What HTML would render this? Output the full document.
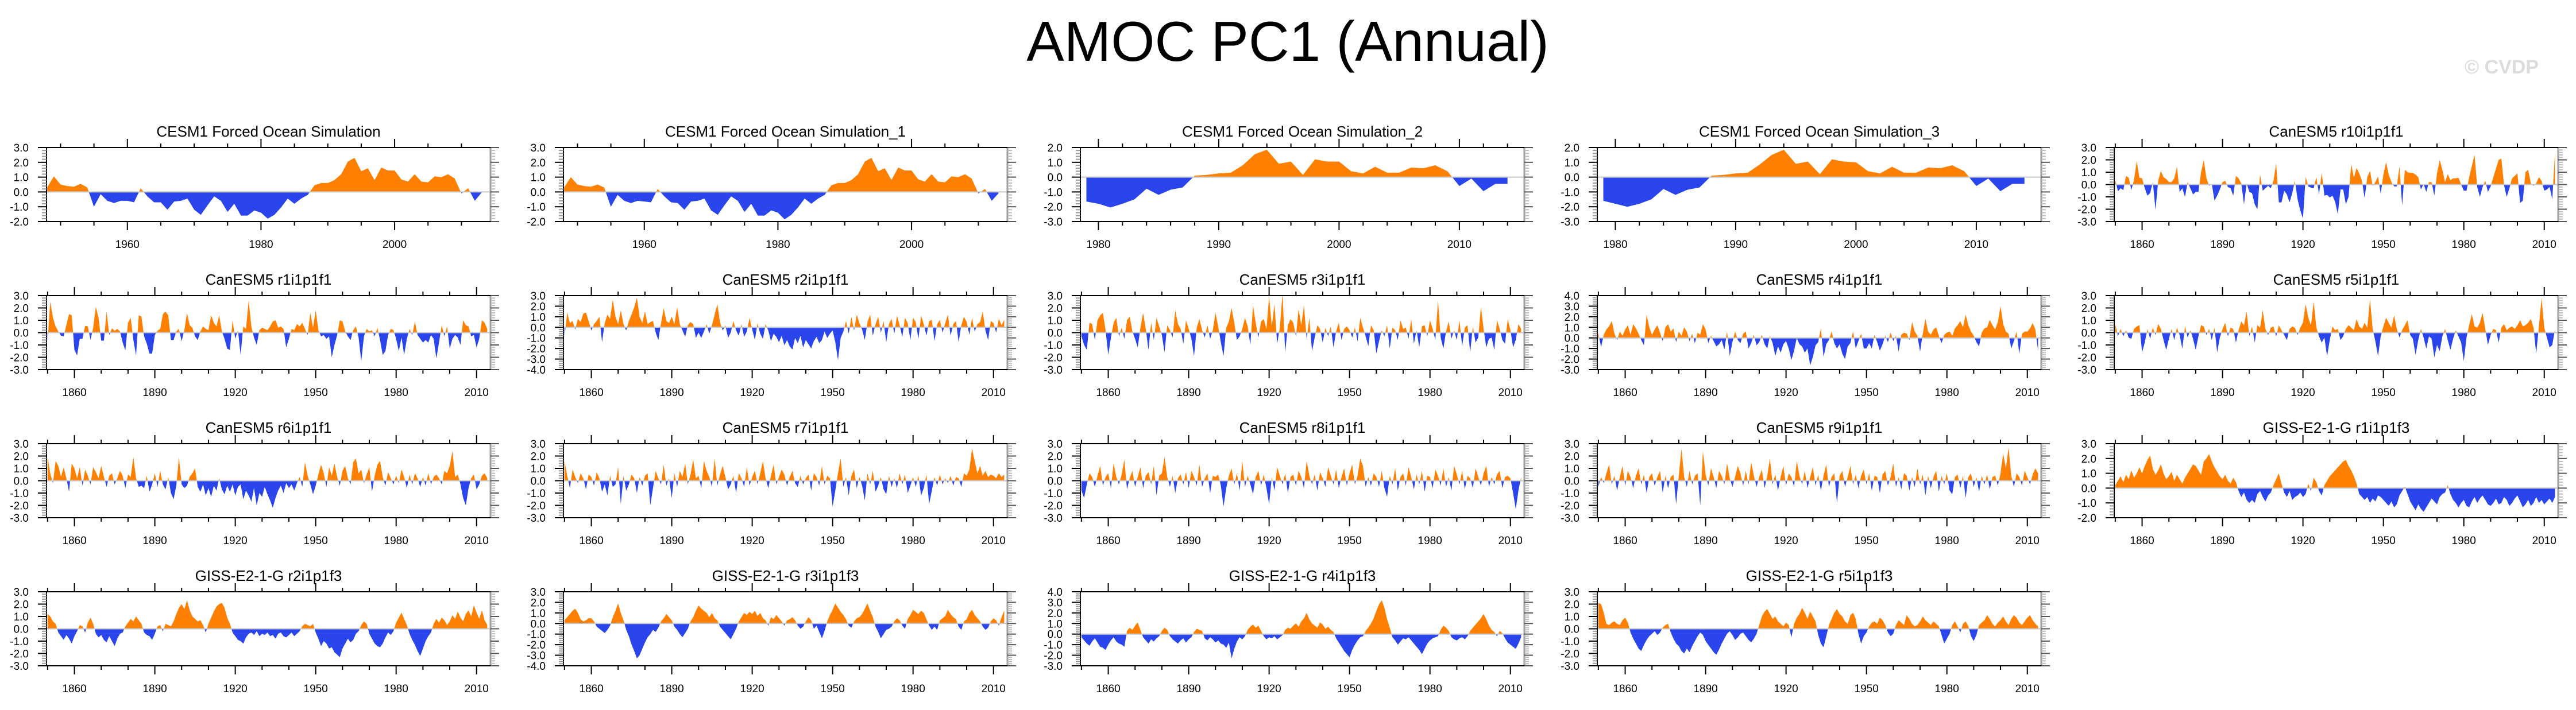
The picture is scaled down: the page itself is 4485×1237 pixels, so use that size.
<!DOCTYPE html>
<html><head><meta charset="utf-8"><title>AMOC PC1 (Annual)</title>
<style>
html,body{margin:0;padding:0;background:#fff;}
svg{display:block;font-family:"Liberation Sans",Arial,sans-serif;}
</style></head>
<body>
<svg id="fig" width="4485" height="1237" viewBox="0 0 4485 1237" xmlns="http://www.w3.org/2000/svg">
<text x="2242" y="106" font-size="98" text-anchor="middle" fill="#000">AMOC PC1 (Annual)</text>
<text x="4420" y="128" font-size="34" font-weight="bold" text-anchor="end" fill="#dcdcdc">© CVDP</text>
<g id="panels"></g>
</svg>
<script>
// ---------- data ----------
const titles = ["CESM1 Forced Ocean Simulation","CESM1 Forced Ocean Simulation_1","CESM1 Forced Ocean Simulation_2","CESM1 Forced Ocean Simulation_3","CanESM5 r10i1p1f1",
"CanESM5 r1i1p1f1","CanESM5 r2i1p1f1","CanESM5 r3i1p1f1","CanESM5 r4i1p1f1","CanESM5 r5i1p1f1",
"CanESM5 r6i1p1f1","CanESM5 r7i1p1f1","CanESM5 r8i1p1f1","CanESM5 r9i1p1f1","GISS-E2-1-G r1i1p1f3",
"GISS-E2-1-G r2i1p1f3","GISS-E2-1-G r3i1p1f3","GISS-E2-1-G r4i1p1f3","GISS-E2-1-G r5i1p1f3"];
const startYears = [1948,1948,1979,1979,1850,1850,1850,1850,1850,1850,1850,1850,1850,1850,1850,1850,1850,1850,1850];
const yMins = [-2,-2,-3,-3,-3,-3,-4,-3,-3,-3,-3,-3,-3,-3,-2,-3,-4,-3,-3];
const yMaxs = [3,3,2,2,3,3,3,3,4,3,3,3,3,3,3,3,3,4,3];
const axisKinds = ["ocean","ocean","short","short","long","long","long","long","long","long","long","long","long","long","long","long","long","long","long"];

const cesm0 = [0.3,1.05,0.5,0.4,0.35,0.55,0.3,-1.0,-0.15,-0.6,-0.75,-0.6,-0.6,-0.7,0.25,-0.3,-0.7,-0.7,-1.2,-0.65,-0.6,-0.45,-1.2,-1.55,-0.9,-0.3,-0.6,-1.35,-0.8,-1.6,-1.6,-1.25,-1.4,-1.8,-1.55,-1.05,-0.45,-0.8,-0.45,-0.2,0.45,0.6,0.6,0.8,1.2,2.05,2.3,1.4,1.6,0.8,1.65,1.45,1.45,0.85,0.7,1.2,0.7,0.65,1.05,1.0,1.2,0.9,-0.1,0.25,-0.6,-0.05];
const cesm1 = [0.3,1.0,0.5,0.4,0.35,0.5,0.3,-1.0,-0.2,-0.6,-0.75,-0.6,-0.65,-0.7,0.2,-0.3,-0.7,-0.75,-1.2,-0.65,-0.6,-0.45,-1.25,-1.55,-0.9,-0.3,-0.6,-1.35,-0.8,-1.6,-1.6,-1.25,-1.4,-1.85,-1.55,-1.05,-0.45,-0.8,-0.45,-0.2,0.45,0.6,0.6,0.8,1.2,2.05,2.3,1.4,1.6,0.8,1.65,1.45,1.45,0.85,0.7,1.2,0.7,0.65,1.05,1.0,1.2,0.9,-0.1,0.2,-0.6,-0.1];
const cesm2 = [-1.65,-1.8,-2.05,-1.8,-1.5,-0.78,-1.2,-0.85,-0.7,0.1,0.15,0.25,0.3,0.8,1.55,1.85,0.9,1.05,0.15,1.2,1.05,1.05,0.4,0.25,0.7,0.3,0.3,0.65,0.6,0.8,0.4,-0.6,-0.1,-0.95,-0.45,-0.45];
const cesm3 = [-1.6,-1.8,-2.0,-1.8,-1.5,-0.8,-1.2,-0.85,-0.7,0.1,0.15,0.25,0.3,0.85,1.5,1.85,0.9,1.05,0.2,1.2,1.05,1.0,0.4,0.25,0.7,0.3,0.3,0.65,0.6,0.8,0.4,-0.6,-0.1,-0.95,-0.45,-0.45];
const can10 = [0.4,-0.55,-0.3,-0.45,0.7,0.55,-0.45,0.4,1.9,0.55,
0.5,-0.3,-0.9,-0.7,0.2,-2.05,0.3,1.1,0.6,0.45,
0.2,0.2,0.5,1.45,-0.6,-0.3,-1.0,0.2,-0.3,-0.8,
-0.6,-0.6,1.0,2.0,0.5,-0.1,0.05,-1.3,-0.9,-0.4,
0.2,0.3,-0.2,-0.3,-0.9,0.7,0.5,0.1,-1.6,0.1,
-0.6,-0.7,-1.6,-2.0,0.8,-0.5,-0.3,-0.1,-0.3,0.3,
1.7,-1.45,-1.45,-0.5,-0.8,-1.45,-0.7,0.3,-1.2,-2.1,
-2.75,0.6,-0.15,-0.25,-0.3,0.6,-0.8,0.95,-0.9,-0.85,
-1.05,-0.9,-1.4,-2.4,-0.4,-0.4,-1.6,-1.0,1.65,0.55,
1.35,0.9,0.3,-1.1,0.6,1.1,-0.1,0.2,0.65,-0.75,
0.8,1.8,0.8,0.2,-0.15,-0.15,1.45,-1.7,1.2,1.0,
0.95,0.95,0.8,0.6,-0.4,0.05,-0.6,0.2,0.2,-0.9,
0.9,2.0,1.2,0.2,0.85,0.35,0.5,0.5,0.55,0.0,
-0.5,-0.5,0.6,1.5,2.4,-0.2,-1.0,-0.2,0.3,-0.6,
-0.15,0.6,1.3,2.0,2.1,-0.05,-1.0,-0.3,0.5,0.7,
0.9,-1.5,-1.3,1.0,1.2,0.1,-0.1,0.1,0.6,0.3,
-0.5,-0.4,-0.2,-1.2,2.6];
const can1 = [-0.7,2.5,1.2,0.5,0.1,-0.25,-0.3,0.6,1.5,1.4,
-1.4,-1.85,-0.5,-0.5,0.55,0.5,-0.6,0.4,2.1,1.2,
-0.65,-0.65,1.7,-0.2,0.35,0.15,0.3,0.1,-0.8,-1.45,
0.8,1.2,-0.6,-1.85,1.4,1.3,-0.3,-0.9,-1.7,-1.7,
-0.2,0.15,0.3,1.5,1.7,1.4,-0.6,-0.6,0.1,0.3,
-0.7,0.2,1.6,0.6,0.4,-0.3,-0.6,0.1,0.5,0.3,
0.2,1.4,0.8,0.5,1.4,0.1,-0.5,-1.3,-1.4,1.0,
-0.5,0.2,-1.8,0.5,0.3,2.6,0.5,-0.4,-1.0,0.2,
0.4,0.3,0.2,0.5,0.9,1.0,0.4,0.5,0.3,-1.2,
-0.5,0.3,0.2,0.7,0.5,0.8,0.3,-0.2,1.6,0.4,
1.8,0.2,-0.3,-0.2,-0.5,-0.3,-2.0,-1.0,-0.2,1.0,
0.9,0.1,-0.3,-0.6,0.2,0.5,-0.4,-2.3,-0.3,0.3,
0.1,0.2,-0.3,0.4,-0.6,-1.8,-1.5,-0.2,0.3,0.2,
-0.5,-1.5,-0.4,-1.8,-0.5,0.3,-0.2,0.9,-0.2,-0.5,
-0.8,-0.6,-0.8,-0.2,-0.5,-2.1,-0.8,0.6,-0.3,0.5,
-1.3,-0.5,-0.2,-0.4,-1.0,1.0,0.6,0.5,-0.3,-0.2,
-1.2,-0.5,1.0,0.8,0.3];
const can2 = [-0.9,1.4,0.4,0.6,-0.2,0.8,0.5,1.3,1.4,0.6,
-0.3,0.3,0.6,1.0,-1.4,0.4,1.2,0.8,2.6,1.0,
0.3,1.6,0.3,-0.3,0.6,1.2,1.9,2.8,1.0,0.4,
1.5,0.3,0.5,0.6,-0.5,-1.2,0.4,1.8,0.6,0.4,
1.0,0.3,1.9,0.3,-0.3,-0.9,0.2,0.5,0.3,-1.0,
-0.5,-1.0,-0.4,0.3,-0.6,0.2,1.2,2.2,0.5,-0.3,
0.2,-1.0,-0.5,0.6,-0.3,-0.8,0.3,-0.9,-0.4,0.9,
-0.2,-1.2,0.4,-0.6,-1.1,0.3,-0.3,-1.3,-0.6,-0.9,
-1.4,-0.8,-1.7,-1.2,-1.8,-2.1,-1.0,-1.5,-0.8,-1.9,
-1.2,-1.6,-2.0,-1.3,-0.9,-1.5,-1.2,-0.4,-1.0,-0.6,
-0.3,-1.4,-3.1,-1.0,-0.4,0.6,-0.6,1.0,-0.3,1.2,
0.4,-0.2,-1.2,0.5,1.2,-0.8,0.3,1.0,-0.5,0.6,
-1.4,0.3,0.8,-0.6,1.1,0.2,-0.9,0.9,0.4,-1.2,
0.9,0.5,-1.1,1.1,0.3,-0.8,0.6,0.7,-1.3,0.3,
0.7,-0.5,0.4,1.2,-0.8,0.3,0.6,-1.4,0.2,1.0,
0.5,-0.7,0.9,-0.4,0.3,0.5,1.5,-0.3,-1.2,0.6,
0.4,-0.5,0.8,0.2,0.7];
const can3 = [-0.3,-1.0,-1.4,0.8,0.7,-0.6,1.0,1.4,1.6,0.2,
-1.8,-0.4,0.8,1.2,-0.3,0.4,-0.5,1.0,1.3,0.1,
-0.5,-1.2,0.4,1.6,0.3,-1.4,0.8,-0.6,1.2,0.5,
-0.2,-1.6,0.6,0.2,-0.4,1.8,0.7,0.3,-0.9,1.0,
0.3,-0.5,-1.9,0.4,1.1,0.2,-0.4,0.6,-0.5,0.2,
1.6,0.5,-0.8,-1.9,0.4,0.9,2.0,0.8,-0.6,-0.3,
0.3,1.2,0.5,-1.0,2.2,0.8,-0.4,0.9,1.1,0.3,
2.9,0.5,2.3,-0.9,0.4,3.2,-1.6,0.6,1.1,0.8,
-0.3,1.9,0.6,2.2,-0.5,1.2,-1.5,-0.4,0.6,0.3,
-0.8,0.4,-0.3,0.5,-1.2,0.1,0.8,-0.6,0.3,0.5,
0.2,-0.4,0.4,-0.7,1.2,0.4,-0.3,-1.1,0.6,0.2,
-1.7,-0.7,0.2,-0.3,0.6,-1.3,0.4,0.2,-0.6,1.0,
0.3,0.4,-0.5,1.1,-0.9,0.2,-1.2,0.5,0.6,-0.3,
1.0,0.3,-0.6,2.6,-0.4,-1.3,0.1,0.9,-0.5,0.2,
-0.6,1.0,-1.1,0.4,0.6,-1.6,0.5,-0.8,-0.4,2.1,
0.3,-1.2,-0.5,-0.4,-1.4,1.0,0.3,-0.6,-0.9,1.1,
0.2,-1.2,-0.6,0.7,0.3];
const can4 = [0.5,-0.9,0.3,0.8,1.1,1.6,0.4,-0.2,0.6,0.2,
0.8,1.2,0.3,1.3,0.9,0.4,-0.2,-0.7,2.2,1.0,
0.3,0.8,1.2,0.5,-0.3,1.0,1.3,0.6,0.9,-0.4,
0.6,0.2,1.0,0.6,-0.3,0.4,-0.5,0.5,0.3,1.3,
0.8,-0.5,0.2,-0.3,-0.8,-0.6,-0.2,-1.1,0.6,-1.7,
-0.4,0.6,-0.2,-0.5,0.4,0.6,-1.0,-0.5,0.3,-0.7,
-0.4,0.3,-0.6,-1.0,0.2,-0.5,-1.7,-0.8,-1.4,-0.6,
-0.3,-1.0,-2.1,-1.2,0.0,-0.6,-0.8,-1.4,-1.0,-2.6,
-1.8,-0.7,-0.4,0.9,-1.8,-0.6,-0.2,0.6,-0.5,-1.0,
-0.6,-1.5,-2.0,-0.8,-0.5,0.6,-1.0,-0.3,0.4,-1.0,
-1.0,-0.5,-1.0,0.3,-0.4,-1.2,-0.6,0.2,-0.4,0.5,
-0.3,0.2,-1.3,0.3,0.5,0.4,-0.2,1.5,0.6,0.2,
-1.3,0.4,1.8,0.6,0.3,0.8,1.0,0.2,-0.5,0.3,
0.5,0.6,0.2,0.9,1.2,1.6,1.0,2.2,1.2,0.6,
0.2,-0.4,-0.8,0.5,0.9,1.0,1.7,1.2,0.8,1.5,
3.0,1.3,0.6,0.4,-1.0,-0.3,0.6,-1.5,0.4,0.6,
0.6,0.9,1.4,0.8,-1.2];
const can5 = [0.7,-0.3,0.3,-0.3,0.2,-0.4,-0.5,0.3,0.5,0.6,
-1.6,-0.8,0.3,-0.5,0.4,-0.2,0.7,0.3,-0.6,-1.4,
-0.5,0.3,-0.6,0.4,-0.2,-1.3,0.5,-0.4,0.2,-0.5,
-1.4,-0.3,0.6,0.5,-0.2,0.3,-0.6,0.4,-1.6,-0.4,
0.3,0.8,-0.3,0.4,0.3,-0.8,0.2,0.9,0.6,1.7,
-0.3,0.5,-0.8,0.6,0.4,1.8,0.3,-0.2,0.4,0.5,
-0.3,0.6,0.2,-0.2,-0.6,0.3,0.5,0.4,-0.2,0.4,
0.8,2.3,1.2,0.6,2.5,0.4,-0.3,-0.8,-0.4,-1.9,
-0.6,0.5,0.2,0.3,-0.6,-0.3,0.3,0.6,0.4,0.2,
1.1,0.5,0.3,0.8,0.4,2.7,0.3,-0.7,-1.9,-0.3,
0.5,1.2,0.8,0.4,1.4,0.3,-0.4,0.2,0.6,1.0,
-0.2,-0.5,-1.8,-0.6,0.3,-0.4,-1.3,-0.3,-0.5,-2.0,
-1.0,-1.5,-0.3,0.3,-0.6,-1.4,-0.5,0.2,-0.3,-0.8,
-2.3,-0.4,0.6,1.5,0.5,0.4,0.8,1.6,0.3,-1.0,
-0.2,0.3,0.2,-0.8,0.4,0.7,0.2,0.4,0.5,0.3,
0.6,1.0,0.5,0.6,0.8,1.1,0.4,-1.7,0.5,2.8,
0.4,-0.4,-1.2,-1.0,0.3];
const can6 = [1.9,0.6,-0.2,1.6,1.2,0.3,1.1,0.2,-0.9,1.4,
1.0,0.2,1.1,-0.4,0.9,0.4,-0.3,1.1,0.7,0.2,
1.2,0.3,-0.5,0.4,0.6,-0.3,0.2,0.8,0.4,-0.6,
0.5,0.3,1.9,0.2,-0.5,-0.4,-0.6,0.4,-0.9,-0.3,
0.6,-0.5,0.8,-0.3,-0.7,0.3,-1.0,-1.5,-0.4,1.9,
-0.3,-0.6,-0.4,0.3,0.6,1.0,-0.5,-0.9,-0.3,-1.2,
-0.6,-1.3,-0.4,-0.8,0.2,-0.7,-1.1,-0.4,-0.9,-0.3,
-1.2,-0.5,-0.3,-1.5,-0.8,-1.2,-1.7,-0.6,-2.0,-1.0,
-1.3,-0.5,-1.1,-1.6,-2.2,-1.4,-0.8,-0.4,-1.0,-0.2,
-0.6,-0.3,-0.8,-0.2,0.3,-0.5,1.5,0.4,-0.3,-1.1,
-0.4,0.5,1.3,0.6,-0.5,1.1,0.4,1.4,0.3,-0.4,
0.8,1.2,0.2,-0.3,1.5,1.8,0.6,0.9,-0.2,0.5,
1.1,-0.9,0.4,1.3,1.6,0.3,-0.4,0.7,0.2,-0.3,
0.4,-0.2,0.9,0.3,-0.6,0.5,-0.3,0.6,0.2,-0.5,
0.3,-0.4,0.6,-0.3,0.3,0.5,0.2,-0.3,0.8,0.6,
1.2,2.4,0.3,0.5,-0.3,-1.4,-2.0,-0.6,0.2,0.5,
-0.7,-0.3,0.4,0.6,0.2];
const can7 = [1.6,0.4,-0.6,0.9,0.3,-0.2,0.6,0.2,-0.7,0.5,
0.3,-0.4,0.7,0.2,-0.9,-0.3,-1.2,0.4,-0.5,-0.3,
1.1,-1.9,0.4,-0.8,-0.3,0.5,0.2,-1.0,0.3,-0.4,
0.4,0.6,-2.0,-0.6,0.8,0.2,-0.3,1.3,-0.4,0.2,
-1.4,0.6,-0.5,0.8,0.3,1.4,-0.3,0.5,1.7,0.2,
0.4,-0.6,1.6,0.8,0.3,-0.5,1.8,-0.4,0.5,1.2,
0.3,-0.7,-0.3,0.4,-1.0,0.6,0.2,-0.5,1.1,-0.4,
0.3,0.8,-0.3,0.6,1.6,0.2,-0.6,0.4,1.3,-0.3,
0.3,0.9,0.5,-0.4,0.3,0.8,-0.2,-0.5,0.4,-0.3,
0.2,0.5,-0.8,0.6,0.3,-0.4,1.2,-0.3,0.4,0.2,
-2.1,-0.8,0.6,1.8,-0.5,0.3,-1.2,0.4,0.9,-0.6,
0.3,-0.4,-1.6,0.6,-0.3,0.8,-0.9,-0.4,0.3,-0.7,
-1.1,0.4,-0.5,0.2,-0.6,0.6,-0.3,0.5,-1.0,-0.4,
0.3,-0.5,0.4,-1.2,-0.6,0.5,-1.9,-0.8,0.3,-0.4,
0.5,-0.3,0.2,-0.2,0.4,-0.4,0.3,0.2,-0.5,0.6,
0.4,0.9,2.6,1.6,0.6,1.2,0.4,0.8,0.3,0.5,
0.4,0.2,0.6,0.3,0.5];
const can8 = [-0.8,-1.4,-0.3,0.6,0.3,-0.5,0.4,1.2,-0.4,0.3,
0.6,-0.6,1.4,0.3,-0.3,0.5,1.7,-0.7,0.2,0.8,
-0.5,0.3,1.1,-0.6,0.4,0.7,-0.3,1.2,-1.2,0.4,
0.6,1.9,0.3,-0.5,0.4,-1.0,0.2,0.5,-0.3,0.7,
-0.6,0.8,0.3,-0.4,1.3,-0.5,0.2,0.6,-1.0,0.4,
0.3,0.5,-0.4,-2.1,-0.6,0.4,1.0,-0.3,0.6,-0.8,
1.6,-0.5,0.4,-0.3,-1.1,0.3,0.8,-0.4,0.5,-0.6,
-1.9,0.3,-0.8,1.1,0.4,-0.3,0.6,-1.0,0.3,0.5,
-0.4,0.8,0.3,-0.6,1.6,0.4,-0.3,0.5,-0.8,0.7,
0.2,-0.5,1.1,0.4,-0.3,0.9,-0.6,0.3,1.0,-0.4,
0.6,1.3,-0.3,0.4,1.8,1.2,-0.5,0.3,-0.4,0.6,
0.3,-0.5,0.8,-0.6,-1.3,0.4,-0.3,1.0,-0.8,0.3,
0.6,-0.4,1.1,0.3,-0.7,0.5,-0.3,0.8,-0.9,0.4,
0.3,-0.6,0.9,0.4,-0.4,1.0,-0.5,0.3,-0.8,1.2,
0.5,-0.3,0.8,-0.7,0.4,0.2,-0.6,1.0,0.3,-0.4,
0.6,1.2,-0.5,0.3,-0.3,0.5,0.8,-0.6,0.3,0.4,
0.2,-1.0,-2.3,-0.8,0.3];
const can9 = [-0.5,0.3,-0.2,0.6,1.3,-0.3,0.4,-0.8,0.3,1.2,
-0.4,0.8,0.3,-0.6,0.4,1.0,-0.3,0.5,-1.0,0.3,
0.6,-0.4,0.3,0.8,-1.0,0.4,-0.6,0.3,0.5,-1.9,
0.4,2.6,0.3,-0.5,0.8,-0.3,0.4,0.6,-2.0,2.4,
0.5,-0.4,1.0,0.3,-0.6,0.8,0.4,-0.3,1.4,0.2,
-0.5,0.3,1.2,0.6,-0.4,0.8,-0.3,1.5,0.4,-0.5,
0.3,0.9,-0.6,0.4,1.8,-0.3,0.5,-0.8,0.3,1.2,
-0.4,0.6,0.3,-0.5,1.6,0.4,-0.3,0.8,-0.6,0.3,
1.1,-0.4,0.5,-0.8,0.4,1.3,-0.5,0.3,0.6,-1.8,
0.4,0.8,-0.5,0.3,1.2,-0.3,0.5,-0.6,0.4,0.9,
-0.3,0.6,-0.8,0.4,0.3,-1.0,0.5,0.8,-0.4,0.3,
1.4,-0.5,0.3,-0.7,0.6,0.4,-0.8,0.3,-0.5,1.0,
-0.3,0.5,-1.2,0.4,-0.6,0.3,0.8,-0.9,0.4,-0.3,
0.6,-0.8,-1.1,0.3,0.5,-0.6,0.4,-1.4,0.3,0.6,
-0.5,0.3,-0.9,0.4,-0.3,0.5,-0.7,0.3,0.4,-0.4,
0.6,2.2,1.0,2.7,0.4,-0.5,0.6,0.3,-0.4,0.8,
0.3,-0.3,0.5,1.0,0.6];
const giss1 = [0.2,0.5,0.8,0.4,0.9,0.6,1.2,0.7,1.0,1.4,
1.0,1.5,1.9,2.2,1.3,0.9,1.2,1.6,1.0,0.6,
0.8,1.1,0.5,0.9,0.6,0.3,0.7,1.0,1.3,1.6,
1.5,1.2,0.9,1.8,2.0,2.3,1.8,1.4,1.1,0.8,
0.6,0.9,0.5,0.3,0.7,0.4,-0.2,-0.6,-0.3,-0.8,
-1.0,-0.8,-1.0,-0.4,-0.2,-0.6,-0.9,-0.5,-0.3,0.2,
0.6,1.0,0.3,-0.3,-0.6,-0.2,-0.8,-0.6,-0.5,-0.3,
-0.6,-0.4,0.3,-0.2,0.7,0.4,-0.2,-0.5,0.2,0.5,
0.8,1.0,1.2,1.4,1.6,1.8,1.9,1.5,1.2,0.8,
0.3,-0.4,-0.6,-0.8,-0.6,-1.0,-0.7,-0.9,-0.5,-0.6,
-0.8,-1.0,-1.2,-0.9,-1.3,-1.1,-0.5,-0.2,0.1,-0.4,
-0.9,-1.2,-1.5,-1.1,-1.4,-1.6,-1.3,-1.0,-0.7,-0.9,
-1.1,-0.6,-0.4,-0.3,0.2,-0.4,-0.8,-1.0,-1.3,-1.0,
-0.8,-1.2,-1.3,-0.9,-0.6,-1.0,-0.7,-0.5,-0.8,-1.1,
-1.2,-1.0,-0.7,-1.1,-1.0,-0.6,-0.8,-1.2,-1.0,-0.7,
-0.5,-0.9,-1.3,-1.1,-0.8,-1.2,-1.0,-0.6,-1.0,-0.8,
-1.1,-0.9,-0.7,-1.0,-0.6];
const giss2 = [1.2,1.0,0.6,0.4,-0.3,-0.6,-0.9,-0.5,-0.8,-1.2,
-0.6,-0.2,0.3,0.2,-0.3,0.5,0.9,0.4,-0.4,-0.7,
-0.5,-0.9,-1.1,-0.6,-1.0,-1.4,-0.8,-0.4,-0.3,0.2,
0.5,0.8,0.6,1.0,0.7,0.4,-0.3,-0.5,-0.6,-0.9,
-0.4,0.2,0.3,-0.2,0.4,0.3,0.2,0.6,1.2,1.7,
2.0,1.6,2.3,1.5,1.0,0.8,0.6,0.7,0.3,-0.3,
0.4,0.9,1.4,1.8,2.0,2.1,1.7,0.9,0.4,-0.3,
-0.6,-0.9,-1.0,-1.2,-0.7,-0.4,-0.3,-0.5,-0.2,-0.6,
-0.4,-0.5,-0.3,-0.6,-0.5,-0.8,-0.4,-0.3,-0.6,-0.7,
-0.5,-0.3,-0.6,-0.4,-0.2,0.2,0.4,0.3,0.2,0.4,
-0.3,-0.8,-1.4,-1.0,-1.2,-1.6,-1.5,-1.9,-2.1,-2.3,
-1.6,-1.2,-0.8,-1.1,-0.9,-0.4,-0.2,0.3,0.6,0.4,
-0.4,-0.8,-1.2,-1.4,-1.5,-1.2,-0.7,-0.3,-0.5,-0.2,
0.5,0.9,1.3,0.8,0.3,-0.4,-0.9,-1.3,-1.8,-2.2,
-1.6,-1.0,-0.6,-0.3,0.4,0.8,0.5,0.9,0.7,0.3,
0.6,1.1,0.8,1.4,0.9,0.6,1.2,1.5,1.0,1.9,
1.3,0.8,1.5,0.7,0.3];
const giss3 = [0.3,0.6,0.9,1.2,1.4,1.0,0.4,0.2,0.3,0.5,
0.5,0.2,-0.3,-0.5,-0.7,-0.9,-0.6,-0.2,0.6,1.2,
1.9,1.0,0.3,-0.6,-1.2,-2.0,-2.6,-3.3,-3.0,-2.4,
-1.8,-1.3,-1.0,-0.6,-0.8,-0.4,0.2,0.5,0.9,0.6,
0.3,-0.3,-0.6,-1.0,-1.3,-0.9,-0.5,0.2,0.6,1.2,
1.7,1.4,1.2,1.0,0.6,1.0,0.5,0.3,-0.3,-0.6,
-0.9,-1.2,-1.5,-1.0,-0.5,0.2,0.6,1.0,0.8,1.1,
0.9,1.2,0.7,1.0,0.5,0.3,-0.2,0.6,0.4,0.8,
0.5,0.2,-0.2,0.3,0.4,0.6,0.3,-0.2,-0.5,-0.3,
0.2,0.6,0.3,-0.5,-0.2,-0.8,-1.4,-0.7,0.2,0.8,
1.3,1.9,1.5,1.1,0.8,0.4,-0.2,-0.4,0.2,0.5,
0.6,0.9,1.4,1.9,1.2,0.6,-0.3,-0.8,-1.4,-1.0,
-0.6,-0.5,-0.3,0.2,0.5,0.3,-0.2,-0.5,0.4,0.8,
1.3,1.1,0.9,1.2,1.0,0.4,-0.2,-0.6,-0.3,-0.6,
0.3,0.5,0.7,1.3,0.9,0.6,0.4,-0.3,-0.6,0.2,
0.4,1.0,1.3,0.8,0.5,0.2,-0.3,-0.6,-0.4,0.2,
0.5,0.3,-0.2,0.6,1.2];
const giss4 = [-0.3,-0.6,-0.9,-1.1,-0.7,-0.4,-0.8,-1.2,-1.3,-1.5,
-1.0,-0.6,-0.3,-0.7,-0.9,-1.0,-1.2,0.3,0.6,0.4,
0.8,1.1,0.4,-0.3,-0.6,-0.9,-0.5,-0.7,-0.4,-0.2,
0.3,0.6,0.4,-0.2,-0.5,-0.7,-0.9,-0.6,-0.4,-0.8,
-0.5,-0.3,0.2,0.5,0.4,0.3,-0.4,-0.6,-0.3,-0.5,
-0.8,-0.6,-0.9,-1.0,-1.3,-0.8,-2.3,-1.4,-0.7,-0.3,
-0.5,-0.2,0.4,0.7,0.9,0.6,0.8,0.3,-0.2,-0.5,
-0.3,-0.4,-0.2,-0.5,-0.3,-0.1,0.4,0.6,0.5,0.8,
1.0,0.7,1.2,1.5,2.0,1.4,1.0,0.8,0.6,1.1,
0.9,0.5,0.7,0.4,0.2,-0.4,-0.8,-1.2,-1.6,-1.9,
-2.2,-1.5,-1.0,-0.6,-0.3,-0.2,0.3,0.6,1.0,1.5,
2.2,2.8,3.2,2.5,1.4,0.6,-0.3,-0.6,-1.0,-0.7,
-0.4,-0.5,-0.3,-0.6,-0.9,-1.2,-1.5,-1.9,-1.4,-0.9,
-0.6,-0.4,-0.3,-0.2,0.4,0.8,0.6,0.3,-0.3,-0.5,
-0.6,-0.4,-0.3,-0.5,-0.2,0.3,0.6,0.9,1.2,1.5,
1.9,1.4,0.8,0.4,0.2,-0.2,0.3,0.1,-0.4,-0.8,
-1.0,-1.2,-1.4,-0.9,-0.3];
const giss5 = [2.1,2.0,1.3,0.4,0.3,0.5,0.6,0.4,0.3,0.7,
0.9,0.5,-0.3,-0.8,-1.2,-1.6,-1.8,-1.3,-0.9,-0.6,
-0.4,-0.2,-0.5,-0.3,0.1,0.3,0.4,-0.3,-0.8,-1.2,
-1.4,-1.8,-2.0,-1.6,-1.9,-1.4,-1.0,-0.6,-0.3,-0.5,
-1.0,-1.3,-1.6,-1.9,-2.1,-1.7,-1.2,-0.8,-0.4,-0.2,
-0.5,-0.9,-0.7,-0.4,-0.3,-0.6,-0.9,-1.1,-0.8,-0.4,
0.3,1.0,1.4,1.6,1.2,0.8,1.0,0.6,0.4,0.2,
0.5,0.3,-0.7,0.4,0.9,1.2,1.7,1.3,0.8,1.4,
1.0,0.6,-0.5,-1.2,-1.5,-0.6,0.3,0.8,1.3,1.6,
1.2,1.0,0.6,0.4,1.1,1.3,0.8,-0.4,-1.2,-0.6,
-0.3,0.2,0.5,0.6,0.4,0.9,0.7,0.3,-0.3,-0.6,
-0.4,0.3,0.7,0.5,0.3,1.1,0.8,0.4,0.2,0.3,
0.6,1.0,0.7,0.5,0.3,0.6,0.4,0.2,-0.5,-1.2,
-0.8,-0.4,0.3,0.6,0.2,-0.3,0.4,0.6,0.2,-0.6,
-1.0,-0.5,0.3,0.5,0.7,1.1,0.8,0.4,0.2,0.5,
0.7,1.0,0.6,0.3,0.8,1.1,0.9,0.5,0.3,0.6,
0.9,1.1,0.7,0.4,0.2];

const series = [cesm0,cesm1,cesm2,cesm3,can10,can1,can2,can3,can4,can5,can6,can7,can8,can9,giss1,giss2,giss3,giss4,giss5];

// ---------- drawing ----------
const NS = "http://www.w3.org/2000/svg";
const root = document.getElementById("panels");
const AXES = {
  ocean: {min:1947.9, max:2014.35, major:20, minor:5, first:1960},
  short: {min:1978.5, max:2015.4, major:10, minor:2, first:1980},
  long:  {min:1849.6, max:2015.2, major:30, minor:10, first:1860}
};
function mk(tag, attrs, parent){
  const e = document.createElementNS(NS, tag);
  for (const k in attrs) e.setAttribute(k, attrs[k]);
  parent.appendChild(e);
  return e;
}
function drawPanel(i){
  const col = i % 5, row = Math.floor(i / 5);
  const X0 = 81 + 900 * col, W = 773;
  const Y0 = 257 + 258 * row, H = 129;
  const ax = AXES[axisKinds[i]];
  const ymin = yMins[i], ymax = yMaxs[i];
  const sx = yr => X0 + (yr - ax.min) / (ax.max - ax.min) * W;
  const sy = v => Y0 + (ymax - v) / (ymax - ymin) * H;
  const g = mk("g", {}, root);
  
  

  const t = mk("text", {x: X0 + W / 2, y: Y0 - 19, "font-size": 26, "text-anchor": "middle", fill: "#000"}, g);
  t.textContent = titles[i];
  
  

  // data fill
  const vals = series[i], y0 = startYears[i];
  let pts = [sx(y0).toFixed(2) + "," + sy(0).toFixed(2)];
  vals.forEach((v, k) => pts.push(sx(y0 + k).toFixed(2) + "," + sy(v).toFixed(2)));
  pts.push(sx(y0 + vals.length - 1).toFixed(2) + "," + sy(0).toFixed(2));
  const cidP = "cp" + i, cidN = "cn" + i;
  const defs = mk("defs", {}, g);
  const cp = mk("clipPath", {id: cidP}, defs);
  mk("rect", {x: X0, y: Y0, width: W, height: sy(0) - Y0}, cp);
  const cn = mk("clipPath", {id: cidN}, defs);
  mk("rect", {x: X0, y: sy(0), width: W, height: Y0 + H - sy(0)}, cn);
  const pPos = mk("polygon", {points: pts.join(" "), fill: "#ff8000", "clip-path": "url(#" + cidP + ")"}, g);
  
  
  const pNeg = mk("polygon", {points: pts.join(" "), fill: "#2a45ec", "clip-path": "url(#" + cidN + ")"}, g);
  
  

  const zl = mk("line", {x1: X0, x2: X0 + W, y1: sy(0), y2: sy(0), stroke: "#c8c8c8", "stroke-width": 2}, g);
  
  

  // frame
  mk("line", {x1: X0 + W, x2: X0 + W, y1: Y0, y2: Y0 + H, stroke: "#999", "stroke-width": 3}, g);
  mk("line", {x1: X0, x2: X0, y1: Y0 - 1, y2: Y0 + H + 1, stroke: "#000", "stroke-width": 2}, g);
  mk("line", {x1: X0, x2: X0 + W + 2, y1: Y0, y2: Y0, stroke: "#000", "stroke-width": 2}, g);
  mk("line", {x1: X0, x2: X0 + W + 2, y1: Y0 + H, y2: Y0 + H, stroke: "#000", "stroke-width": 2}, g);

  // y ticks
  for (let v = ymin; v <= ymax + 1e-9; v += 0.2) {
    const vv = Math.round(v * 10) / 10;
    const y = sy(vv);
    const major = Math.abs(vv - Math.round(vv)) < 1e-6;
    if (major) {
      mk("line", {x1: X0 - 15, x2: X0, y1: y, y2: y, stroke: "#000", "stroke-width": 2}, g);
      mk("line", {x1: X0 + W, x2: X0 + W + 15, y1: y, y2: y, stroke: "#555", "stroke-width": 2}, g);
      const lb = mk("text", {x: X0 - 31, y: y + 7, "font-size": 19, "text-anchor": "end", fill: "#000"}, g);
      lb.textContent = vv.toFixed(1);
      
      
    } else {
      mk("line", {x1: X0 - 8, x2: X0, y1: y, y2: y, stroke: "#999", "stroke-width": 2}, g);
      mk("line", {x1: X0 + W, x2: X0 + W + 8, y1: y, y2: y, stroke: "#bbb", "stroke-width": 2}, g);
    }
  }
  // x ticks
  const startMinor = Math.ceil(ax.min / ax.minor) * ax.minor;
  for (let yr = startMinor; yr <= ax.max; yr += ax.minor) {
    const x = sx(yr);
    const major = ((yr - ax.first) % ax.major + ax.major) % ax.major === 0;
    const len = major ? 15 : 7;
    mk("line", {x1: x, x2: x, y1: Y0 - len, y2: Y0, stroke: "#000", "stroke-width": 2}, g);
    mk("line", {x1: x, x2: x, y1: Y0 + H, y2: Y0 + H + len, stroke: "#000", "stroke-width": 2}, g);
    if (major) {
      const lb = mk("text", {x: x, y: Y0 + H + 46, "font-size": 19, "text-anchor": "middle", fill: "#000"}, g);
      lb.textContent = String(yr);
      
      
    }
  }
}
for (let i = 0; i < series.length; i++) drawPanel(i);
</script>
</body></html>
